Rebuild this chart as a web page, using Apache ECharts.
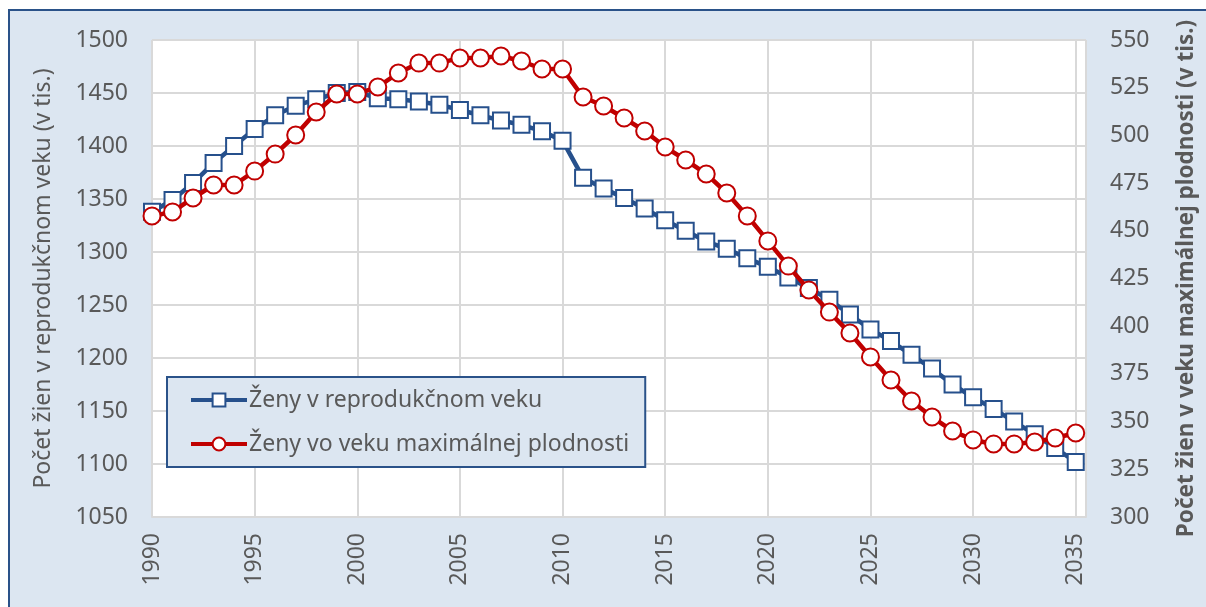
<!doctype html>
<html lang="sk">
<head>
<meta charset="utf-8">
<title>Ženy v reprodukčnom veku</title>
<script src="https://cdn.jsdelivr.net/npm/echarts@6/dist/echarts.min.js"></script>
<style>
  html, body { margin: 0; padding: 0; background: #fff; overflow: hidden; }
  #frame { position: absolute; left: 8px; top: 9px; width: 1230px; height: 640px;
           background: #dce6f1; border: 2px solid #2a5289; }
  #main { position: absolute; left: 0; top: 0; width: 1206px; height: 607px; }
</style>
</head>
<body>
<div id="frame"></div>
<div id="main"></div>
<script>
// roky 1990 - 2035
var years = [];
for (var y = 1990; y <= 2035; y++) years.push(y);

// ženy v reprodukčnom veku (ľavá os, tis.)
var reprodukcny = [
  1338, 1349, 1365, 1384, 1400, 1416, 1429, 1438, 1444, 1450,
  1451, 1445, 1444, 1442, 1439, 1434, 1429, 1424, 1420, 1414,
  1405, 1370, 1360, 1351, 1341, 1330, 1320, 1310, 1303, 1294,
  1286, 1276, 1266, 1255, 1241, 1227, 1216, 1203, 1190, 1175,
  1163, 1152, 1140, 1128, 1115, 1102
];

// ženy vo veku maximálnej plodnosti (pravá os, tis.)
var maxPlodnost = [
  457.8, 459.9, 467.2, 474.0, 474.0, 481.3, 490.2, 500.2, 512.3, 521.7,
  521.7, 525.4, 532.7, 537.9, 537.9, 540.6, 540.6, 541.6, 539.0, 534.8,
  534.8, 520.1, 515.4, 509.1, 502.3, 493.9, 487.1, 479.8, 469.8, 457.8,
  444.7, 431.5, 419.0, 407.4, 396.4, 383.9, 371.8, 360.8, 352.4, 345.1,
  340.4, 338.3, 338.3, 339.3, 341.4, 344.0
];

var seriesNames = ['Ženy v reprodukčnom veku', 'Ženy vo veku maximálnej plodnosti'];

function pairs(vals) {
  return vals.map(function (v, i) { return [years[i], v]; });
}

var txt = '#595959';
var font = 'Noto Sans';
var plain = function (v) { return String(v); };

var chart = echarts.init(document.getElementById('main'));
chart.setOption({
  animation: false,
  backgroundColor: 'transparent',
  textStyle: { fontFamily: font },
  grid: {
    left: 152, top: 40, right: 116, bottom: 90,
    show: true, backgroundColor: '#fff', borderWidth: 0
  },
  legend: {
    orient: 'vertical',
    left: 167, top: 377,
    padding: [10, 16, 10, 22],
    backgroundColor: '#dce6f1',
    borderColor: '#2a5289',
    borderWidth: 2,
    borderRadius: 0,
    itemWidth: 56,
    itemHeight: 16,
    itemGap: 18,
    lineStyle: { width: 4 },
    textStyle: { color: txt, fontSize: 23, fontFamily: font, lineHeight: 26, padding: [0, 0, 0, -3] },
    data: seriesNames
  },
  xAxis: {
    type: 'value',
    min: 1990, max: 2035.5, interval: 5,
    axisLine: { show: true, lineStyle: { color: '#d9d9d9', width: 2 } },
    axisTick: { show: false },
    splitLine: { show: true, lineStyle: { color: '#d9d9d9', width: 2 } },
    axisLabel: {
      rotate: 90, margin: 16, color: txt, fontSize: 23, fontFamily: font,
      showMaxLabel: false,
      formatter: function (v) { return v % 5 === 0 ? String(v) : ''; }
    }
  },
  yAxis: [{
    type: 'value',
    min: 1050, max: 1500, interval: 50,
    name: 'Počet žien v reprodukčnom veku (v tis.)',
    nameLocation: 'middle', nameGap: 97,
    nameTextStyle: { color: txt, fontSize: 23, fontFamily: font },
    axisLine: { show: false }, axisTick: { show: false },
    splitLine: { lineStyle: { color: '#d9d9d9', width: 2 } },
    axisLabel: { color: txt, fontSize: 23, margin: 24, fontFamily: font, formatter: plain }
  }, {
    type: 'value',
    min: 300, max: 550, interval: 25,
    name: 'Počet žien v veku maximálnej plodnosti (v tis.)',
    nameLocation: 'middle', nameGap: 89,
    nameTextStyle: { color: txt, fontSize: 22.5, fontWeight: 'bold', fontFamily: font },
    axisLine: { show: false }, axisTick: { show: false },
    splitLine: { show: false },
    axisLabel: { color: txt, fontSize: 23, margin: 24, fontFamily: font, formatter: plain }
  }],
  series: [{
    name: seriesNames[0],
    type: 'line',
    yAxisIndex: 0,
    data: pairs(reprodukcny),
    symbol: 'rect', symbolSize: 16,
    lineStyle: { color: '#26508c', width: 4.5 },
    itemStyle: { color: '#fff', borderColor: '#26508c', borderWidth: 2 },
    z: 2
  }, {
    name: seriesNames[1],
    type: 'line',
    yAxisIndex: 1,
    data: pairs(maxPlodnost),
    symbol: 'circle', symbolSize: 17,
    lineStyle: { color: '#c00000', width: 4.5 },
    itemStyle: { color: '#fff', borderColor: '#c00000', borderWidth: 2 },
    z: 3
  }]
});
</script>
</body>
</html>
